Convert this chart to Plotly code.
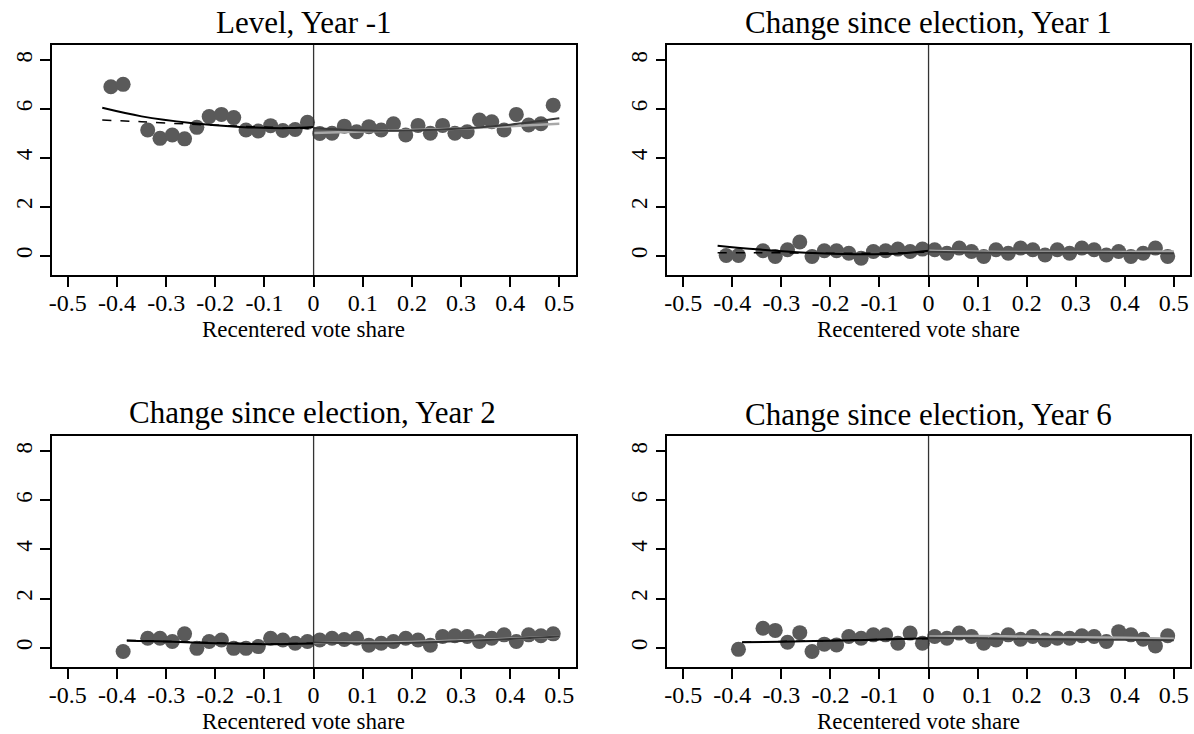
import plotly.graph_objects as go

# ---------------- data ----------------
titles = ["Level, Year -1", "Change since election, Year 1",
          "Change since election, Year 2", "Change since election, Year 6"]
x_label = "Recentered vote share"
x_ticks = [-0.5, -0.4, -0.3, -0.2, -0.1, 0, 0.1, 0.2, 0.3, 0.4, 0.5]
x_tick_text = ["-0.5", "-0.4", "-0.3", "-0.2", "-0.1", "0", "0.1", "0.2", "0.3", "0.4", "0.5"]
y_ticks = [0, 2, 4, 6, 8]

bins_left_a = [-0.4125, -0.3875, -0.3375, -0.3125, -0.2875, -0.2625, -0.2375, -0.2125,
               -0.1875, -0.1625, -0.1375, -0.1125, -0.0875, -0.0625, -0.0375, -0.0125]
bins_left_b = [-0.3875, -0.3375, -0.3125, -0.2875, -0.2625, -0.2375, -0.2125,
               -0.1875, -0.1625, -0.1375, -0.1125, -0.0875, -0.0625, -0.0375, -0.0125]
bins_right = [0.0125, 0.0375, 0.0625, 0.0875, 0.1125, 0.1375, 0.1625, 0.1875, 0.2125, 0.2375,
              0.2625, 0.2875, 0.3125, 0.3375, 0.3625, 0.3875, 0.4125, 0.4375, 0.4625, 0.4875]

p1_left = [6.91, 7.01, 5.14, 4.80, 4.94, 4.78, 5.25, 5.69, 5.78, 5.65, 5.14, 5.10, 5.32, 5.12, 5.16, 5.46]
p1_right = [5.00, 5.01, 5.30, 5.07, 5.28, 5.14, 5.40, 4.94, 5.33, 5.01, 5.33, 5.01, 5.07, 5.55, 5.48, 5.14, 5.78, 5.35, 5.40, 6.16]
p2_left = [0.01, 0.01, 0.20, -0.03, 0.24, 0.56, -0.03, 0.20, 0.20, 0.10, -0.10, 0.17, 0.20, 0.27, 0.17, 0.27]
p2_right = [0.24, 0.10, 0.31, 0.17, -0.03, 0.24, 0.10, 0.31, 0.24, 0.03, 0.24, 0.10, 0.31, 0.24, 0.03, 0.17, -0.03, 0.10, 0.31, -0.03]
p3_left = [-0.16, 0.38, 0.38, 0.25, 0.56, -0.03, 0.25, 0.31, -0.03, -0.03, 0.04, 0.38, 0.31, 0.18, 0.25]
p3_right = [0.31, 0.38, 0.33, 0.38, 0.10, 0.18, 0.25, 0.38, 0.31, 0.10, 0.45, 0.48, 0.45, 0.25, 0.38, 0.52, 0.25, 0.52, 0.48, 0.56]
p4_left = [-0.07, 0.79, 0.70, 0.22, 0.61, -0.16, 0.14, 0.11, 0.45, 0.38, 0.52, 0.52, 0.18, 0.59, 0.18]
p4_right = [0.45, 0.38, 0.59, 0.45, 0.18, 0.31, 0.52, 0.34, 0.45, 0.31, 0.38, 0.38, 0.48, 0.45, 0.25, 0.65, 0.52, 0.34, 0.07, 0.48]

# fitted curves
fitL_x_a = [-0.43, -0.35, -0.25, -0.15, -0.05, 0.0]
fitL_x_b = [-0.38, -0.3, -0.2, -0.1, 0.0]
fitR_x = [0.0, 0.1, 0.2, 0.3, 0.4, 0.5]

p1_fitL_solid = [6.05, 5.70, 5.43, 5.27, 5.22, 5.27]
p1_fitL_dash = [5.55, 5.48, 5.38, 5.30, 5.23, 5.20]
p1_fitR_dark = [5.22, 5.12, 5.12, 5.20, 5.36, 5.62]
p1_fitR_light = [5.02, 5.08, 5.14, 5.20, 5.30, 5.40]

p2_fitL_solid = [0.41, 0.26, 0.12, 0.06, 0.10, 0.20]
p2_fitL_dash = [0.12, 0.12, 0.11, 0.10, 0.12, 0.15]
p2_fitR_dark = [0.16, 0.13, 0.12, 0.12, 0.11, 0.10]
p2_fitR_light = [0.20, 0.16, 0.15, 0.15, 0.15, 0.17]

p3_fitL_solid = [0.28, 0.25, 0.18, 0.14, 0.17]
p3_fitL_dash = [0.30, 0.25, 0.20, 0.16, 0.18]
p3_fitR_dark = [0.22, 0.18, 0.20, 0.27, 0.35, 0.45]
p3_fitR_light = [0.20, 0.21, 0.23, 0.29, 0.36, 0.44]

p4_fitL_solid = [0.22, 0.24, 0.28, 0.33, 0.38]
p4_fitL_dash = [0.22, 0.25, 0.29, 0.33, 0.36]
p4_fitR_dark = [0.40, 0.38, 0.35, 0.33, 0.32, 0.30]
p4_fitR_light = [0.45, 0.47, 0.45, 0.42, 0.40, 0.36]

panels = [
    (bins_left_a, p1_left, p1_right, fitL_x_a, p1_fitL_solid, p1_fitL_dash, p1_fitR_dark, p1_fitR_light),
    (bins_left_a, p2_left, p2_right, fitL_x_a, p2_fitL_solid, p2_fitL_dash, p2_fitR_dark, p2_fitR_light),
    (bins_left_b, p3_left, p3_right, fitL_x_b, p3_fitL_solid, p3_fitL_dash, p3_fitR_dark, p3_fitR_light),
    (bins_left_b, p4_left, p4_right, fitL_x_b, p4_fitL_solid, p4_fitL_dash, p4_fitR_dark, p4_fitR_light),
]

# ---------------- layout geometry (pixels) ----------------
W, H = 1194, 734
boxes = [  # left, right, top, bottom
    (49, 574, 45, 275),
    (666, 1190, 45, 275),
    (49, 574, 436, 667),
    (666, 1190, 436, 667),
]
title_pos = [(302, 22), (928, 23), (310, 412), (928, 414)]
xlab_pos = [(301, 329), (918, 329), (301, 721), (918, 721)]

FONT = "Liberation Serif, Times New Roman, serif"
PT_COLOR = "#5a5a5a"

fig = go.Figure()
layout = dict(
    width=W, height=H, margin=dict(l=0, r=0, t=0, b=0),
    paper_bgcolor="white", plot_bgcolor="white", showlegend=False,
    font=dict(family=FONT, color="black"),
)

annotations = []
shapes = []
for i, (bl, yl, yr, fx, fs, fd, frd, frl) in enumerate(panels):
    k = "" if i == 0 else str(i + 1)
    xa, ya = "x" + k, "y" + k
    L, R, T, B = boxes[i]
    layout["xaxis" + k] = dict(
        domain=[L / W, R / W], range=[-0.5325, 0.533], anchor=ya,
        tickmode="array", tickvals=x_ticks, ticktext=x_tick_text,
        ticks="outside", ticklen=10, tickwidth=1.5, tickcolor="black",
        showline=True, linecolor="black", linewidth=1.5, mirror=True,
        showgrid=False, zeroline=False, ticklabelstandoff=-5,
        tickfont=dict(family=FONT, size=24, color="black"),
    )
    layout["yaxis" + k] = dict(
        domain=[1 - B / H, 1 - T / H], range=[-0.79, 8.62], anchor=xa,
        tickmode="array", tickvals=y_ticks,
        ticks="outside", ticklen=10, tickwidth=1.5, tickcolor="black",
        showline=True, linecolor="black", linewidth=1.5, mirror=True,
        showgrid=False, zeroline=False, tickangle=-90, ticklabelstandoff=-1,
        tickfont=dict(family=FONT, size=23, color="black"),
    )
    # points
    fig.add_trace(go.Scatter(x=bl, y=yl, mode="markers", xaxis=xa, yaxis=ya,
                             marker=dict(size=15, color=PT_COLOR, line=dict(width=0))))
    fig.add_trace(go.Scatter(x=bins_right, y=yr, mode="markers", xaxis=xa, yaxis=ya,
                             marker=dict(size=15, color=PT_COLOR, line=dict(width=0))))
    # fitted lines
    fig.add_trace(go.Scatter(x=fitR_x, y=frl, mode="lines", xaxis=xa, yaxis=ya, line_shape="spline",
                             line=dict(color="#a8a8a8", width=2.5)))
    fig.add_trace(go.Scatter(x=fitR_x, y=frd, mode="lines", xaxis=xa, yaxis=ya, line_shape="spline",
                             line=dict(color="#3a3a3a", width=2)))
    fig.add_trace(go.Scatter(x=fx, y=fd, mode="lines", xaxis=xa, yaxis=ya, line_shape="spline",
                             line=dict(color="black", width=1.5, dash="dash")))
    fig.add_trace(go.Scatter(x=fx, y=fs, mode="lines", xaxis=xa, yaxis=ya, line_shape="spline",
                             line=dict(color="black", width=2)))
    # vertical reference line at the cutoff
    shapes.append(dict(type="line", xref=xa, yref=ya + " domain", x0=0, x1=0, y0=0, y1=1,
                       line=dict(color="#333333", width=1.3), layer="above"))
    # title and x label
    tx, ty = title_pos[i]
    annotations.append(dict(text=titles[i], x=tx / W, y=1 - ty / H, xref="paper", yref="paper",
                            xanchor="center", yanchor="middle", showarrow=False,
                            font=dict(family=FONT, size=31, color="black")))
    lx, ly = xlab_pos[i]
    annotations.append(dict(text=x_label, x=lx / W, y=1 - ly / H, xref="paper", yref="paper",
                            xanchor="center", yanchor="middle", showarrow=False,
                            font=dict(family=FONT, size=23, color="black")))

layout["annotations"] = annotations
layout["shapes"] = shapes
fig.update_layout(**layout)
fig.write_html("out.html", config={"displayModeBar": False},
               post_script="document.body.style.margin='0';document.body.style.overflow='hidden';")
